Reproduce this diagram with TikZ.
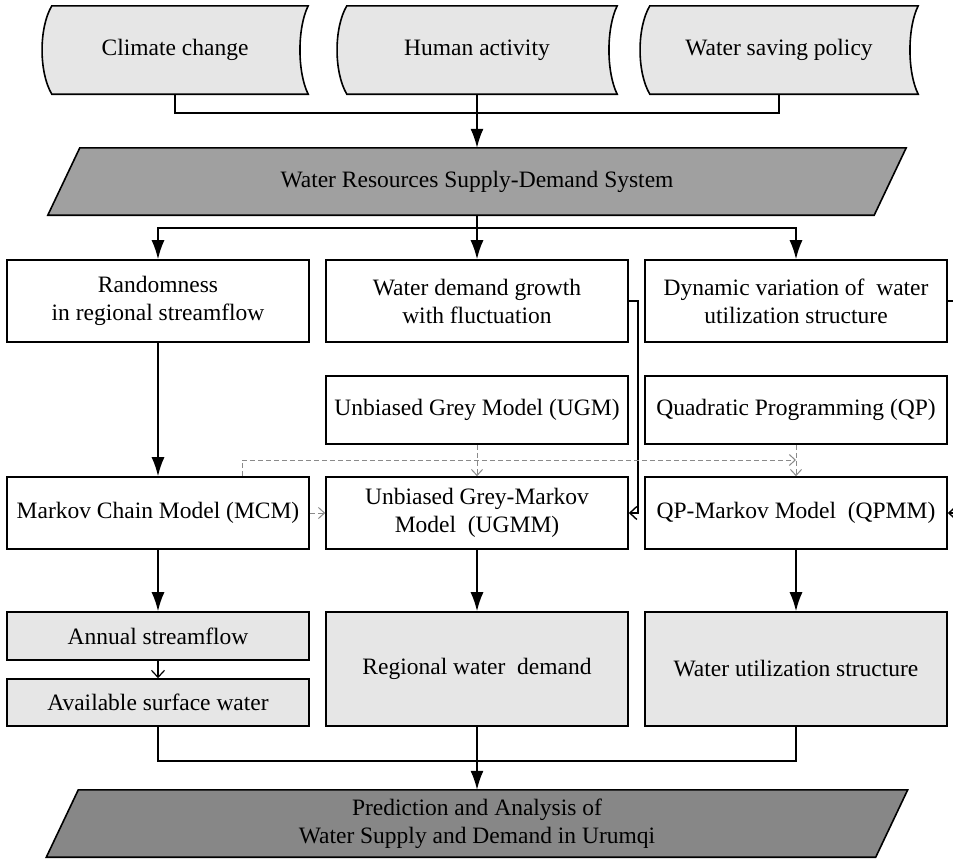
\documentclass[tikz,border=0pt]{standalone}
\usepackage{fontspec}
\setmainfont{Liberation Serif}
\usetikzlibrary{arrows.meta,calc,backgrounds}
\definecolor{lightg}{HTML}{E6E6E6}
\definecolor{darkg}{HTML}{A0A0A0}
\definecolor{darkgb}{HTML}{878787}
\definecolor{dashg}{HTML}{8A8A8A}
\newcommand\sdshape[1]{%
  \draw[line width=1.6pt, fill=lightg]
    ($(#1.north west)+(10,0)$) -- (#1.north east)
    .. controls +(-11,22) and +(-11,-22) .. (#1.south east)
    -- ($(#1.south west)+(10,0)$)
    .. controls +(-13,-22) and +(-13,22) .. ($(#1.north west)+(10,0)$) -- cycle;}
\newcommand\plshape[2]{%
  \draw[line width=1.6pt, fill=#2]
    ($(#1.north west)+(16,0)$) -- ($(#1.north east)+(16,0)$)
    -- ($(#1.south east)+(-16,0)$) -- ($(#1.south west)+(-16,0)$) -- cycle;}
\begin{document}
\begin{tikzpicture}[x=1pt,y=-1pt,
  every node/.style={font=\fontsize{23.5}{28}\selectfont, align=center, inner sep=0pt},
  box/.style={draw=black, line width=1.6pt, fill=white, minimum width=302pt},
  lbox/.style={box, fill=lightg},
  con/.style={line width=1.6pt},
  arr/.style={con, -{Latex[length=19pt,width=13pt]}},
  barb/.style={line width=1.4pt, -{Straight Barb[length=7pt,width=13pt]}},
  dsh/.style={draw=dashg, line width=1pt, dash pattern=on 5pt off 3pt, -{Straight Barb[length=6pt,width=11pt]}},
]
\useasboundingbox (0,0) rectangle (953,860);
\clip (0,0) rectangle (953,860);

% top inputs
\node[minimum width=266pt, minimum height=88pt] (cc) at (175,50) {Climate change};
\node[minimum width=280pt, minimum height=88pt] (ha) at (477,50) {Human activity};
\node[minimum width=278pt, minimum height=88pt] (ws) at (779,50) {Water saving policy};
\node[minimum width=826pt, minimum height=67pt] (wrs) at (477,181.5) {Water Resources Supply-Demand System};

% boxes
\node[box, minimum height=82pt] (rand) at (158,301) {Randomness\\in regional streamflow};
\node[box, minimum height=82pt] (wdg) at (477,301) {Water demand growth\\with fluctuation};
\node[box, minimum height=82pt] (dyn) at (796,301) {Dynamic variation of~ water\\utilization structure};
\node[box, minimum height=68pt] (ugm) at (477,410) {Unbiased Grey Model (UGM)};
\node[box, minimum height=68pt] (qp) at (796,410) {Quadratic Programming (QP)};
\node[box, minimum height=72pt] (mcm) at (158,513) {Markov Chain Model (MCM)};
\node[box, minimum height=72pt] (ugmm) at (477,513) {Unbiased Grey-Markov\\Model~ (UGMM)};
\node[box, minimum height=72pt] (qpmm) at (796,513) {QP-Markov Model~ (QPMM)};
\node[lbox, minimum height=48pt] (ann) at (158,636) {Annual streamflow};
\node[lbox, minimum height=47pt] (avl) at (158,702.5) {Available surface water};
\node[lbox, minimum height=114pt] (reg) at (477,669) {Regional water~ demand};
\node[lbox, minimum height=114pt] (wus) at (796,669) {Water utilization structure};

\node[minimum width=829pt, minimum height=67pt] (pa) at (477,823.5) {Prediction and Analysis of\\Water Supply and Demand in Urumqi};

\begin{scope}[on background layer]
  \fill[white] (0,0) rectangle (953,860);
  \sdshape{cc}
  \sdshape{ha}
  \sdshape{ws}
  \plshape{wrs}{darkg}
  \plshape{pa}{darkgb}
\end{scope}

% connectors
\draw[con] (cc.south) -- ++(0,19) -| (ws.south);
\draw[arr] (ha.south) -- (wrs.north);
\coordinate (j1) at (477,228);
\draw[con] (wrs.south) -- (j1);
\draw[arr] (j1) -| (rand.north);
\draw[arr] (j1) -- (wdg.north);
\draw[arr] (j1) -| (dyn.north);
\draw[arr] (rand.south) -- (mcm.north);
\draw[barb] (wdg.east) -- ++(9,0) |- (ugmm.east);
\draw[barb] (dyn.east) -- ++(16,0) |- (qpmm.east);
\draw[dsh] (ugm.south) -- (ugmm.north);
\draw[dsh] (qp.south) -- (qpmm.north);
\coordinate (dj) at (796,460);
\draw[dsh] ($(mcm.north)+(84,0)$) |- (dj);
\draw[dsh] (mcm.east) -- (ugmm.west);
\draw[arr] (mcm.south) -- (ann.north);
\draw[barb, line width=1.2pt] (ann.south) -- (avl.north);
\draw[arr] (ugmm.south) -- (reg.north);
\draw[arr] (qpmm.south) -- (wus.north);
\draw[con] (avl.south) -- ++(0,34) -| (wus.south);
\draw[arr] (reg.south) -- (pa.north);
\end{tikzpicture}
\end{document}
